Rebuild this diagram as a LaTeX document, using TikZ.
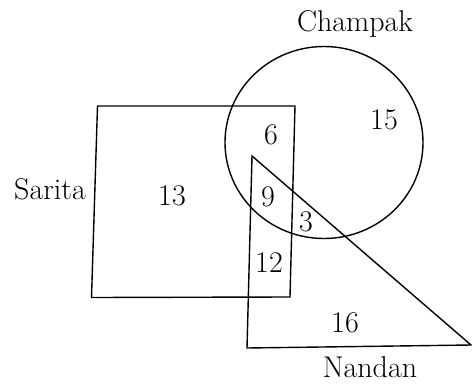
\documentclass[tikz,border=0pt]{standalone}
\usepackage{fontspec}
\setmainfont{Latin Modern Roman}
\begin{document}
\begin{tikzpicture}[x=1pt,y=-1pt,
  shape line/.style={line width=1.4pt,black,line join=miter},
  lbl/.style={font=\fontsize{30}{34}\selectfont,inner sep=0pt,anchor=center}]
\useasboundingbox (0,0) rectangle (472,386);
% Sarita (square)
\draw[shape line] (97.5,106) -- (295,106) -- (290,297) -- (91.5,297.5) -- cycle;
% Champak (circle)
\draw[shape line] (324,142.5) ellipse [x radius=99, y radius=96];
% Nandan (triangle)
\draw[shape line] (252,156) -- (471,345) -- (247,348) -- cycle;
% labels
\node[lbl] (champak) at (355,24) {Champak};
\node[lbl] (sarita) at (50,189) {Sarita};
\node[lbl] (nandan) at (370,367) {Nandan};
\node[lbl] (n13) at (172,196) {13};
\node[lbl] (n6) at (271,135) {6};
\node[lbl] (n15) at (384,120) {15};
\node[lbl] (n9) at (268,197) {9};
\node[lbl] (n3) at (306,222) {3};
\node[lbl] (n12) at (269,263) {12};
\node[lbl] (n16) at (345,323) {16};
\end{tikzpicture}
\end{document}
